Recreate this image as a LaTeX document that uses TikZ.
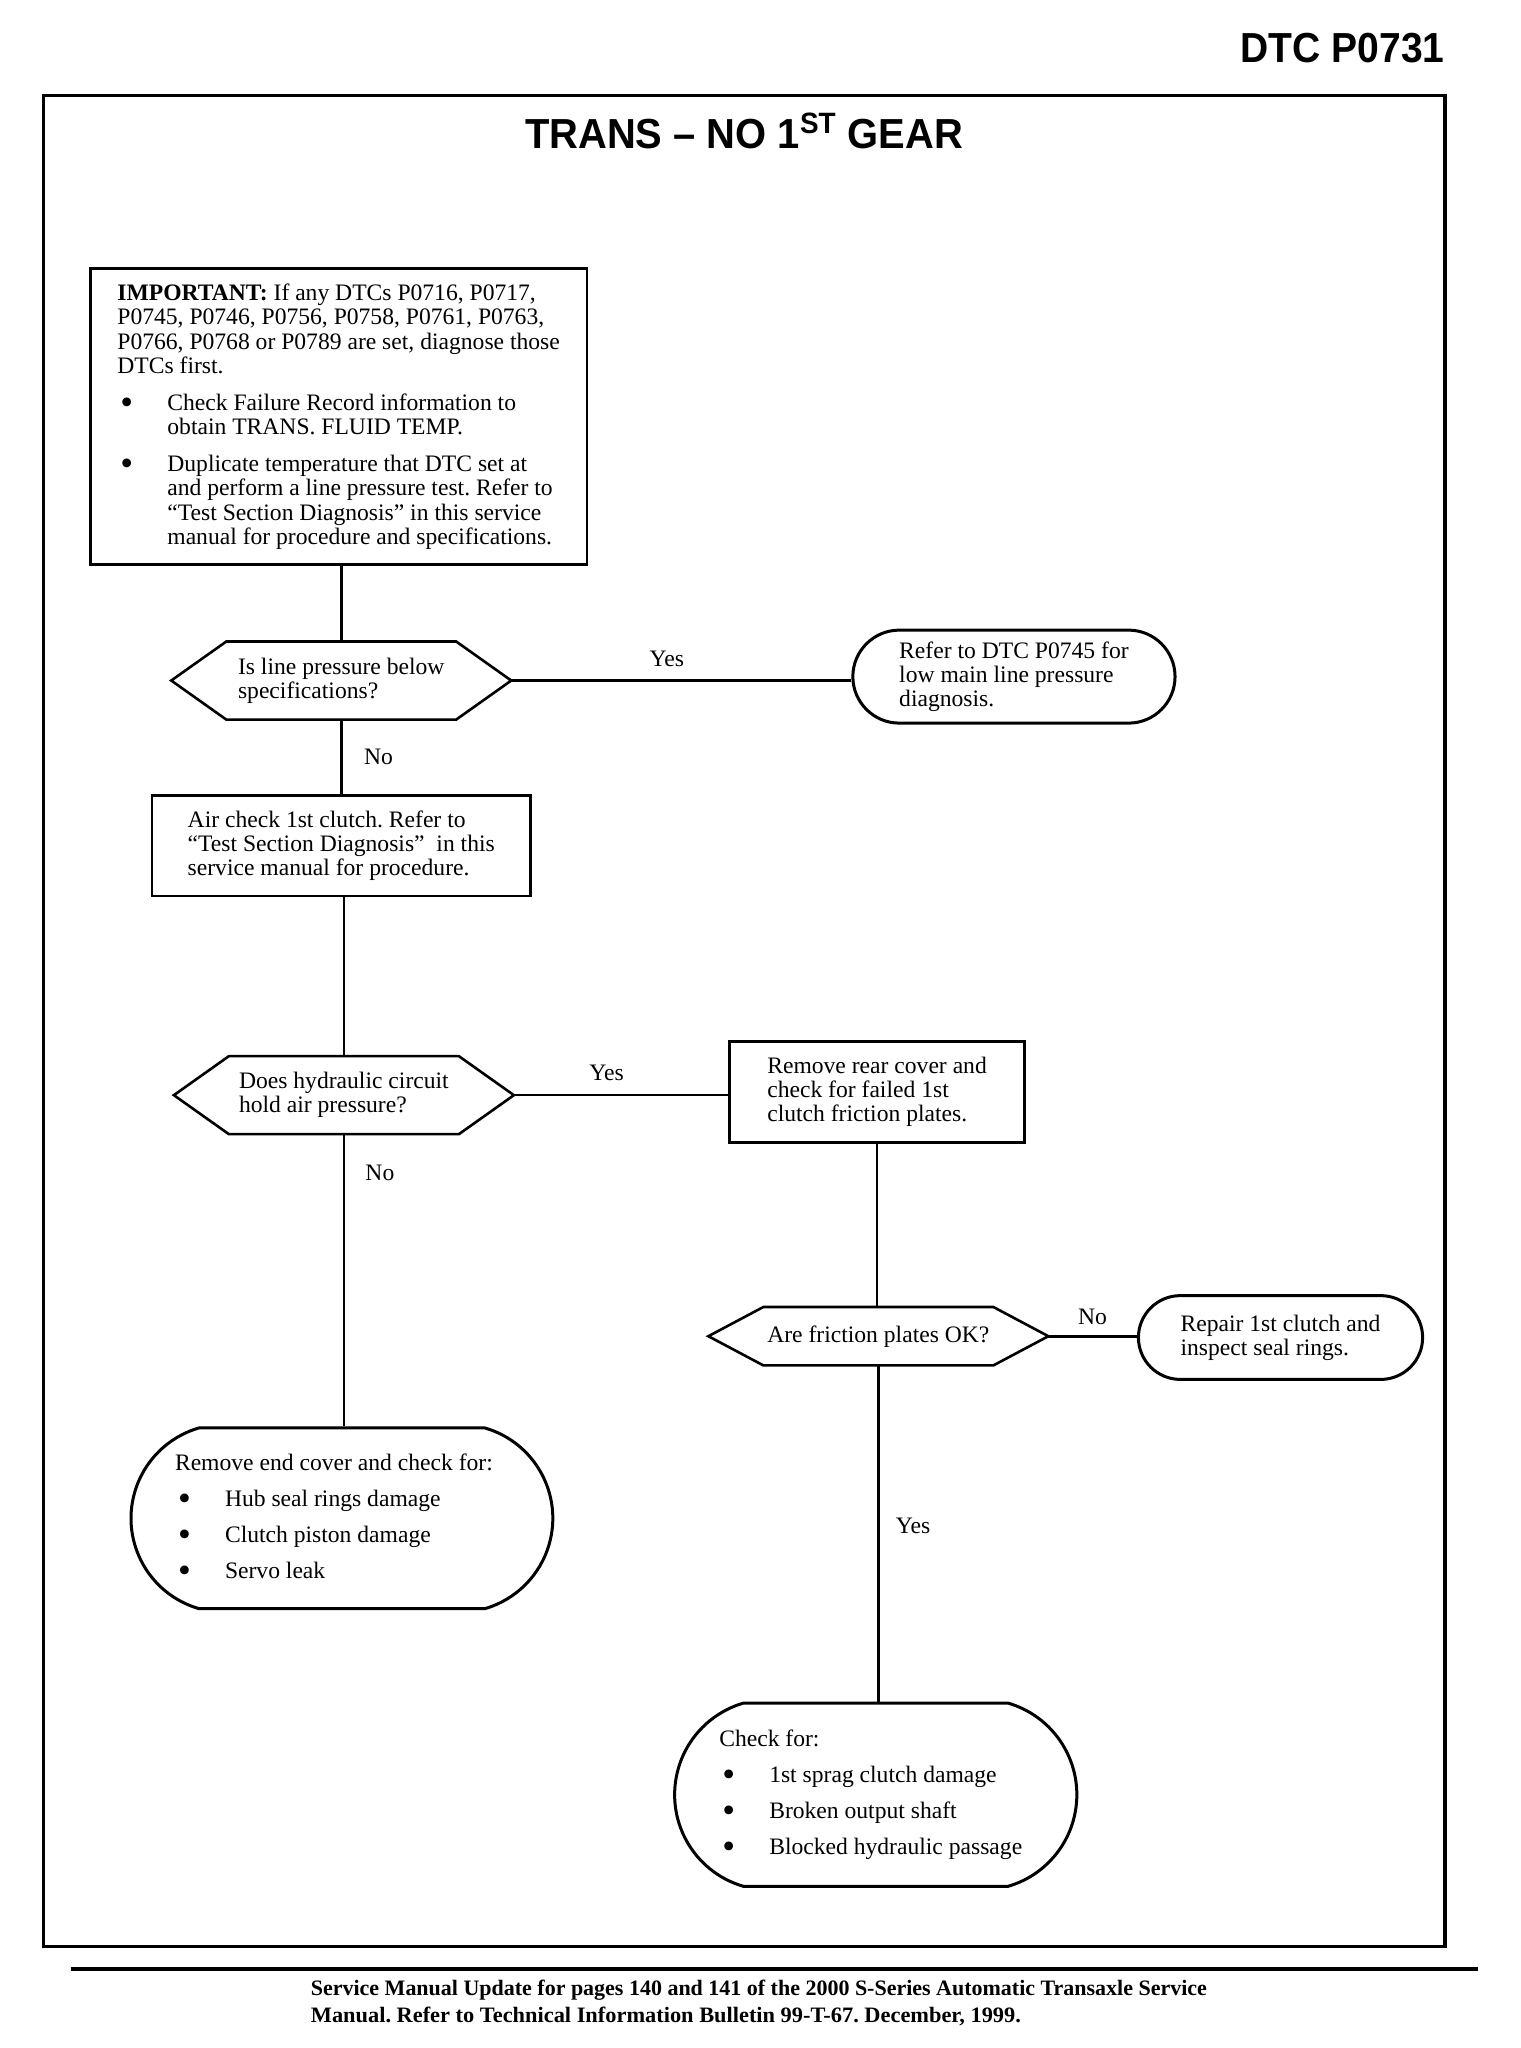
\documentclass[tikz,border=0pt]{standalone}
\usepackage{fontspec}
\usepackage{graphicx}
\setmainfont{Liberation Serif}
\newfontfamily\headfont{Liberation Sans}
\usetikzlibrary{shapes.misc}
\frenchspacing
\newcommand\bulitem{\makebox[25pt][l]{\hspace{1.5pt}\raisebox{-0.17em}{\scalebox{1.55}{\textbullet}}}}
\newcommand\indentbox{\makebox[25pt]{}}
\newcommand\hexpath[1]{\draw[edge, line join=miter] ([xshift=27.5pt]#1.north west) -- ([xshift=-27.5pt]#1.north east) -- (#1.east) -- ([xshift=-27.5pt]#1.south east) -- ([xshift=27.5pt]#1.south west) -- (#1.west) -- cycle;}
\begin{document}
\begin{tikzpicture}[x=0.655pt, y=-0.655pt,
  edge/.style={line width=1.3pt},
  body/.style={font=\fontsize{11.8}{12}\selectfont},
  boxnode/.style={body, draw, line width=1.3pt, rectangle, inner sep=0pt, align=left},
  hexnode/.style={body, inner sep=0pt, align=left, minimum width=169.6pt},
  ovalnode/.style={body, draw, line width=1.5pt, rounded rectangle, inner sep=0pt, align=left},
  lbl/.style={body, inner sep=0pt}
]
\useasboundingbox (0,0) rectangle (1160.31,1563.36);
% page frame and header/footer
\draw[line width=1.6pt] (33,73) rectangle (1103,1486);
\node[anchor=east, inner sep=0pt, font=\headfont\bfseries\fontsize{21}{21}\selectfont] (dtc) at (1103,37) {\resizebox{102pt}{\height}{DTC P0731}};
\node[inner sep=0pt, font=\headfont\bfseries\fontsize{21}{21}\selectfont] (title) at (568,100) {\resizebox{219pt}{\height}{TRANS – NO 1\textsuperscript{ST} GEAR}};
\draw[line width=2pt] (54,1503) -- (1128,1503);
\node[anchor=west, inner sep=0pt, font=\bfseries\fontsize{11}{11}\selectfont] (foot1) at (237,1519) {\resizebox{448pt}{\height}{Service Manual Update for pages 140 and 141 of the 2000 S-Series Automatic Transaxle Service}};
\node[anchor=west, inner sep=0pt, font=\bfseries\fontsize{11}{11}\selectfont] (foot2) at (237,1539) {\resizebox{355pt}{\height}{Manual. Refer to Technical Information Bulletin 99-T-67. December, 1999.}};

% nodes
\node[boxnode, minimum width=248.2pt, minimum height=148pt, font=\fontsize{11.8}{12.25}\selectfont] (imp) at (258.5,318) {\textbf{IMPORTANT:} If any DTCs P0716, P0717,\\
P0745, P0746, P0756, P0758, P0761, P0763,\\
P0766, P0768 or P0789 are set, diagnose those\\
DTCs first.\\[6pt]
\bulitem Check Failure Record information to\\
\indentbox obtain TRANS. FLUID TEMP.\\[6pt]
\bulitem Duplicate temperature that DTC set at\\
\indentbox and perform a line pressure test. Refer to\\
\indentbox “Test Section Diagnosis” in this service\\
\indentbox manual for procedure and specifications.};

\node[hexnode, minimum height=38.6pt] (q1) at (260.5,519.5) {Is line pressure below\\specifications?};
\hexpath{q1}
\node[ovalnode, minimum width=161.1pt, minimum height=46.5pt] (r1) at (774,516.5) {Refer to DTC P0745 for\\low main line pressure\\diagnosis.};

\node[boxnode, minimum width=189.3pt, minimum height=50.4pt] (air) at (260.5,645.5) {Air check 1st clutch. Refer to\\“Test Section Diagnosis”~ in this\\service manual for procedure.};

\node[hexnode, minimum height=38.6pt] (q2) at (262.5,836) {Does hydraulic circuit\\hold air pressure?};
\hexpath{q2}
\node[boxnode, minimum width=147.4pt, minimum height=50.4pt] (rear) at (669.5,833.5) {Remove rear cover and\\check for failed 1st\\clutch friction plates.};

\node[hexnode, minimum height=28.8pt] (q3) at (670.5,1020) {Are friction plates OK?};
\hexpath{q3}
\node[ovalnode, minimum width=142.1pt, minimum height=41.9pt] (r2) at (977.5,1021) {Repair 1st clutch and\\inspect seal rings.};

\node[ovalnode, rounded rectangle arc length=148, minimum width=210.9pt, minimum height=90.4pt, font=\fontsize{11.8}{18}\selectfont] (endc) at (261,1159) {Remove end cover and check for:\makebox[8pt]{}\\
\bulitem Hub seal rings damage\\
\bulitem Clutch piston damage\\
\bulitem Servo leak};

\node[ovalnode, rounded rectangle arc length=148, minimum width=201.1pt, minimum height=91.7pt, font=\fontsize{11.8}{18}\selectfont] (chk) at (668.5,1370) {Check for:\\
\bulitem 1st sprag clutch damage\\
\bulitem Broken output shaft\\
\bulitem Blocked hydraulic passage\makebox[5pt]{}};

% connectors
\draw[edge] (q1.north) -- (q1.north |- imp.south);
\draw[edge] (q1.east) -- (q1.east -| r1.west);
\draw[edge] (q1.south) -- (q1.south |- air.north);
\draw[edge] (q2.north |- air.south) -- (q2.north);
\draw[edge] (q2.east) -- (q2.east -| rear.west);
\draw[edge] (q2.south) -- (q2.south |- endc.north);
\draw[edge] (rear.south) -- (rear.south |- q3.north);
\draw[edge] (q3.east) -- (q3.east -| r2.west);
\draw[edge] (q3.south) -- (q3.south |- chk.north);

% labels
\node[lbl] (yes1) at (509,503) {Yes};
\node[lbl] (no1) at (289,578) {No};
\node[lbl] (yes2) at (463,819) {Yes};
\node[lbl] (no2) at (290,895) {No};
\node[lbl] (no3) at (834,1005) {No};
\node[lbl] (yes3) at (697,1165) {Yes};
\end{tikzpicture}
\end{document}
